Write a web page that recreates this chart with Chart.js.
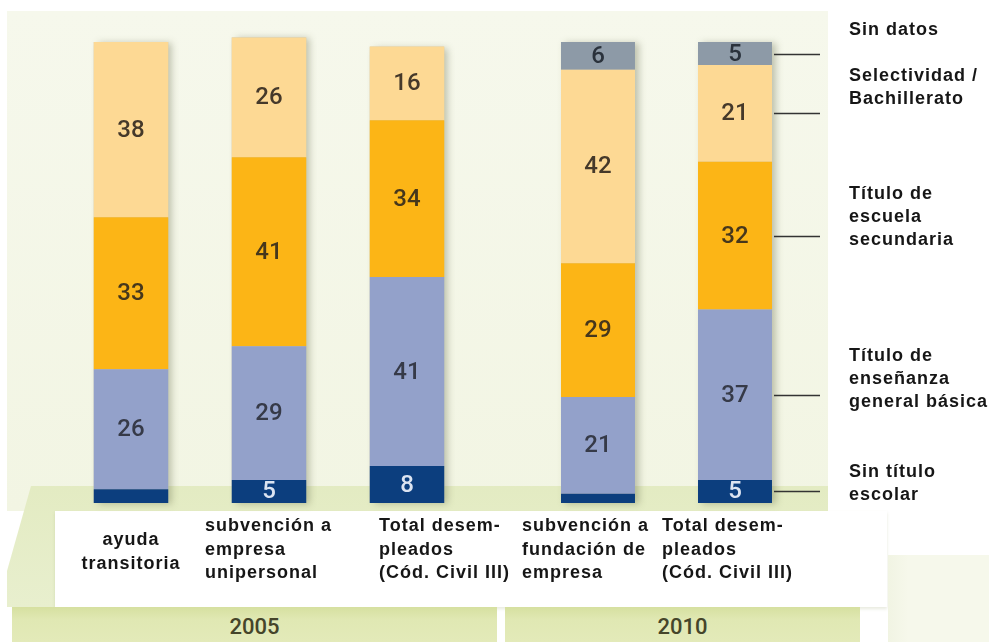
<!DOCTYPE html>
<html lang="es">
<head>
<meta charset="utf-8">
<title>Nivel de formación</title>
<script src="https://cdn.jsdelivr.net/npm/chart.js@4"></script>
<style>
  html, body { margin:0; padding:0; background:#fff; width:989px; height:642px; overflow:hidden; }
  .layer { position:absolute; }
  #panel { left:7px; top:11px; width:821px; height:500px; background:linear-gradient(#F6F8EC, #F2F5E3); }
  #floor { left:7px; top:486px; width:821px; height:121px; background:linear-gradient(#E3EBC2, #E8EFCE);
           clip-path:polygon(24px 0, 100% 0, 100% 100%, 0 100%, 0 85px); }
  #labelbox { left:55px; top:511px; width:832px; height:96px; background:#fff; box-shadow:0 2px 3px rgba(140,150,90,0.2); }
  .band { top:607px; height:35px; background:linear-gradient(#D6E0A0, #E0E8B3 35%, #E3EAB9);
          font:500 22px Roboto, sans-serif; color:#45452a; text-align:center; line-height:40px; }
  #band2005 { left:12px; width:485px; }
  #band2010 { left:505px; width:355px; }
  #corner { left:888px; top:555px; width:101px; height:87px; background:linear-gradient(90deg, #F1F4E3, #F6F8EB 20%); }
  canvas { position:absolute; left:0; top:0; }
</style>
</head>
<body>
<div class="layer" id="panel"></div>
<div class="layer" id="floor"></div>
<div class="layer" id="labelbox"></div>
<div class="layer band" id="band2005"></div>
<div class="layer band" id="band2010"></div>
<div class="layer" id="corner"></div>
<canvas id="c2005" width="989" height="642"></canvas>
<canvas id="c2010" width="989" height="642"></canvas>
<script>
// Years and the bars shown for each
const years = ['2005', '2010'];
const categories2005 = [
  ['ayuda', 'transitoria'],
  ['subvención a', 'empresa', 'unipersonal'],
  ['Total desem-', 'pleados', '(Cód. Civil III)']
];
const categories2010 = [
  ['subvención a', 'fundación de', 'empresa'],
  ['Total desem-', 'pleados', '(Cód. Civil III)']
];

// Education level shares in %, stacked from the bottom up
const seriesNames = [
  'Sin título escolar',
  'Título de enseñanza general básica',
  'Título de escuela secundaria',
  'Selectividad / Bachillerato',
  'Sin datos'
];
const sinTitulo2005    = [3, 5, 8];
const basica2005       = [26, 29, 41];
const secundaria2005   = [33, 41, 34];
const selectividad2005 = [38, 26, 16];
const sinDatos2005     = [null, null, null];

const sinTitulo2010    = [2, 5];
const basica2010       = [21, 37];
const secundaria2010   = [29, 32];
const selectividad2010 = [42, 21];
const sinDatos2010     = [6, 5];

// Legend texts, listed top to bottom (last series first)
const legendTexts = [
  ['Sin datos'],
  ['Selectividad /', 'Bachillerato'],
  ['Título de', 'escuela', 'secundaria'],
  ['Título de', 'enseñanza', 'general básica'],
  ['Sin título', 'escolar']
];

const seriesColors = ['#0C3E7E', '#93A1CA', '#FCB516', '#FDD994', '#8D9AA7'];
const valueColors  = ['#DCE4F2', '#363A48', '#46371C', '#45392A', '#2A323C'];

document.getElementById('band2005').textContent = years[0];
document.getElementById('band2010').textContent = years[1];

const boldFont = 'bold 18px "Liberation Sans", Arial, sans-serif';

// Soft shadow to the right of each whole stack
const stackShadow = {
  id: 'stackShadow',
  beforeDatasetsDraw(chart) {
    const { ctx, scales: { y } } = chart;
    const first = chart.getDatasetMeta(0);
    ctx.save();
    first.data.forEach((bar, i) => {
      let total = 0;
      chart.data.datasets.forEach(ds => { total += ds.data[i] || 0; });
      const top = y.getPixelForValue(total);
      const bottom = y.getPixelForValue(0);
      ctx.shadowColor = 'rgba(90,95,60,0.35)';
      ctx.shadowBlur = 7;
      ctx.shadowOffsetX = 4;
      ctx.shadowOffsetY = 1;
      ctx.fillStyle = '#c8c8b8';
      ctx.fillRect(bar.x - bar.width / 2, top, bar.width, bottom - top);
    });
    ctx.restore();
  }
};

// Percentages written inside the segments
const valueLabels = {
  id: 'valueLabels',
  afterDatasetsDraw(chart) {
    const { ctx } = chart;
    ctx.save();
    ctx.font = '500 24px Roboto, sans-serif';
    ctx.textAlign = 'center';
    ctx.textBaseline = 'middle';
    chart.data.datasets.forEach((ds, k) => {
      const meta = chart.getDatasetMeta(k);
      meta.data.forEach((bar, i) => {
        const v = ds.data[i];
        if (v == null || v < 4) return;
        ctx.fillStyle = valueColors[k];
        ctx.fillText(String(v), bar.x, (bar.y + bar.base) / 2 + 1);
      });
    });
    ctx.restore();
  }
};

// Multi-line category names under the bars
const categoryLabels = {
  id: 'categoryLabels',
  afterDraw(chart, args, opts) {
    const { ctx, scales: { x } } = chart;
    ctx.save();
    ctx.font = boldFont;
    ctx.letterSpacing = '1px';
    ctx.fillStyle = '#161616';
    ctx.textBaseline = 'alphabetic';
    chart.data.labels.forEach((lines, i) => {
      const cx = x.getPixelForValue(i);
      const lay = opts.layout[i];
      lines.forEach((line, j) => {
        const yy = lay.base + j * 23.5;
        if (lay.align === 'center') {
          ctx.textAlign = 'center';
          ctx.fillText(line, cx, yy);
        } else {
          ctx.textAlign = 'left';
          ctx.fillText(line, cx + lay.dx, yy);
        }
      });
    });
    ctx.restore();
  }
};

// Leader lines from the last bar's segments and the legend texts
const sideLegend = {
  id: 'sideLegend',
  afterDraw(chart, args, opts) {
    if (!opts.enabled) return;
    const { ctx } = chart;
    const n = chart.data.datasets.length;
    ctx.save();
    ctx.strokeStyle = '#333333';
    ctx.lineWidth = 1.6;
    for (let k = 0; k < n; k++) {
      const meta = chart.getDatasetMeta(k);
      const bar = meta.data[meta.data.length - 1];
      const yy = Math.round((bar.y + bar.base) / 2) + 0.5;
      ctx.beginPath();
      ctx.moveTo(bar.x + bar.width / 2 + 2, yy);
      ctx.lineTo(820, yy);
      ctx.stroke();
    }
    ctx.font = boldFont;
    ctx.letterSpacing = '1px';
    ctx.fillStyle = '#161616';
    ctx.textAlign = 'left';
    ctx.textBaseline = 'alphabetic';
    legendTexts.forEach((lines, g) => {
      lines.forEach((line, j) => {
        ctx.fillText(line, 849, opts.baselines[g] + j * 23);
      });
    });
    ctx.restore();
  }
};

function buildDatasets(values) {
  return seriesNames.map((name, k) => ({
    label: name,
    data: values[k],
    backgroundColor: seriesColors[k],
    borderWidth: 0,
    barPercentage: 1,
    categoryPercentage: 0.54,
    clip: false
  }));
}

function makeChart(id, labels, values, padLeft, padRight, layout, legendOn) {
  return new Chart(document.getElementById(id), {
    type: 'bar',
    data: { labels: labels, datasets: buildDatasets(values) },
    options: {
      responsive: false,
      animation: false,
      events: [],
      layout: { padding: { left: padLeft, right: padRight, top: 42, bottom: 139 } },
      scales: {
        x: { stacked: true, display: false },
        y: { stacked: true, display: false, min: 0, max: 100 }
      },
      plugins: {
        legend: { display: false },
        tooltip: { enabled: false },
        categoryLabels: { layout: layout },
        sideLegend: { enabled: legendOn, baselines: [35, 81, 199, 361, 477] }
      }
    },
    plugins: [stackShadow, valueLabels, categoryLabels, sideLegend]
  });
}

makeChart('c2005', categories2005,
  [sinTitulo2005, basica2005, secundaria2005, selectividad2005, sinDatos2005],
  62, 513,
  [{ align: 'center', dx: 0, base: 545 }, { align: 'left', dx: -64, base: 531 }, { align: 'left', dx: -28, base: 531 }],
  false);

makeChart('c2010', categories2010,
  [sinTitulo2010, basica2010, secundaria2010, selectividad2010, sinDatos2010],
  529.5, 185.5,
  [{ align: 'left', dx: -76, base: 531 }, { align: 'left', dx: -73, base: 531 }],
  true);
</script>
</body>
</html>
